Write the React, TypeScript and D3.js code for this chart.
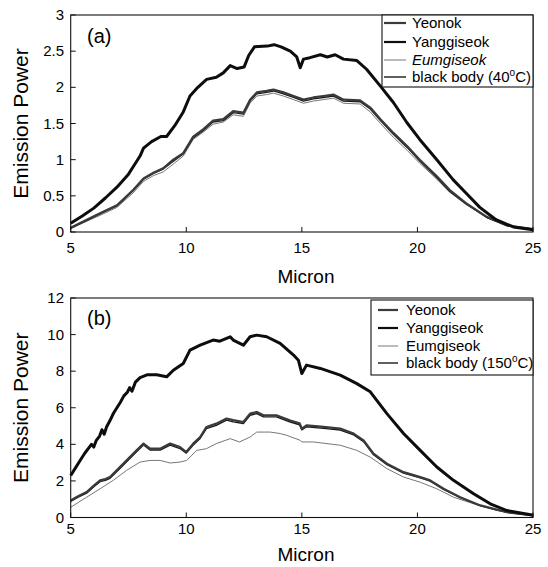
import React from "react";
import * as d3 from "d3";

// ---------- Panel (a): 40°C ----------
const aYangX = [5, 5.5, 6, 6.5, 7, 7.5, 7.8, 8.0, 8.15, 8.5, 8.9, 9.15, 9.5, 9.87, 10.16, 10.5, 10.88, 11.3, 11.6, 11.9, 12.2, 12.5, 12.7, 12.95, 13.5, 13.8, 14.1, 14.5, 14.78, 14.93, 15.07, 15.35, 15.8, 16.1, 16.44, 16.8, 17.38, 17.8, 18.39, 18.96, 19.55, 20.1, 20.84, 21.55, 22.1, 22.7, 23.4, 24.15, 25];
const aYangY = [0.12, 0.22, 0.33, 0.47, 0.62, 0.8, 0.95, 1.05, 1.16, 1.25, 1.32, 1.32, 1.47, 1.66, 1.88, 2.0, 2.11, 2.14, 2.2, 2.3, 2.26, 2.28, 2.44, 2.56, 2.57, 2.59, 2.56, 2.5, 2.42, 2.27, 2.39, 2.41, 2.45, 2.42, 2.45, 2.39, 2.37, 2.25, 2.02, 1.79, 1.51, 1.28, 1.0, 0.72, 0.54, 0.34, 0.17, 0.07, 0.03];

const aLowX = [5, 5.5, 6.27, 7.0, 7.7, 8.15, 8.58, 9.0, 9.44, 9.87, 10.3, 10.73, 11.16, 11.6, 12.03, 12.47, 12.76, 13.05, 13.48, 13.77, 14.2, 14.64, 15.07, 15.5, 15.93, 16.37, 16.8, 17.52, 17.96, 18.4, 18.96, 19.55, 20.1, 20.84, 21.4, 22.1, 23.0, 23.87, 25];
const aYeonY = [0.06, 0.14, 0.26, 0.37, 0.58, 0.74, 0.82, 0.88, 1.0, 1.09, 1.32, 1.42, 1.54, 1.56, 1.67, 1.65, 1.83, 1.93, 1.95, 1.97, 1.93, 1.88, 1.83, 1.86, 1.88, 1.9, 1.83, 1.82, 1.72, 1.56, 1.37, 1.19, 1.0, 0.77, 0.58, 0.4, 0.21, 0.09, 0.04];
const aBodyY = [0.05, 0.13, 0.25, 0.36, 0.57, 0.73, 0.81, 0.87, 0.98, 1.08, 1.3, 1.4, 1.52, 1.54, 1.65, 1.63, 1.81, 1.91, 1.93, 1.95, 1.91, 1.86, 1.81, 1.84, 1.86, 1.88, 1.81, 1.8, 1.7, 1.54, 1.35, 1.17, 0.98, 0.75, 0.56, 0.39, 0.2, 0.09, 0.04];
const aEumY = [0.05, 0.12, 0.23, 0.34, 0.54, 0.7, 0.78, 0.83, 0.94, 1.05, 1.28, 1.38, 1.49, 1.52, 1.62, 1.6, 1.78, 1.88, 1.9, 1.92, 1.88, 1.83, 1.78, 1.81, 1.83, 1.85, 1.78, 1.77, 1.66, 1.5, 1.31, 1.13, 0.95, 0.73, 0.55, 0.38, 0.2, 0.09, 0.04];

// ---------- Panel (b): 150°C ----------
const bYangX = [5.0, 5.2, 5.4, 5.6, 5.75, 5.9, 6.0, 6.1, 6.25, 6.35, 6.45, 6.55, 6.7, 6.85, 7.0, 7.15, 7.3, 7.45, 7.55, 7.65, 7.8, 8.0, 8.3, 8.72, 9.15, 9.44, 9.87, 10.16, 10.6, 11.16, 11.45, 11.9, 12.03, 12.47, 12.76, 13.05, 13.48, 14.06, 14.64, 14.85, 15.0, 15.2, 15.8, 16.66, 17.38, 17.96, 18.68, 19.4, 20.12, 20.84, 21.56, 22.43, 23.15, 23.87, 24.9, 25];
const bYangY = [2.3, 2.7, 3.1, 3.5, 3.75, 4.0, 3.85, 4.2, 4.45, 4.8, 4.55, 4.95, 5.3, 5.7, 6.0, 6.3, 6.65, 6.85, 7.1, 6.9, 7.4, 7.65, 7.8, 7.8, 7.69, 8.05, 8.42, 9.15, 9.42, 9.7, 9.64, 9.88, 9.7, 9.42, 9.88, 9.97, 9.88, 9.52, 8.88, 8.6, 7.87, 8.33, 8.15, 7.78, 7.32, 6.87, 5.68, 4.59, 3.67, 2.76, 2.03, 1.3, 0.75, 0.38, 0.15, 0.12];

const bMidX = [5, 5.3, 5.69, 6.0, 6.27, 6.5, 6.7, 7.13, 7.56, 7.85, 8.15, 8.43, 8.87, 9.3, 9.73, 10.0, 10.3, 10.6, 10.87, 11.3, 11.74, 12.03, 12.47, 12.76, 13.05, 13.34, 13.9, 14.5, 14.9, 15.0, 15.2, 15.94, 16.66, 17.24, 17.67, 18.1, 18.68, 19.4, 20.12, 20.55, 21.13, 21.85, 22.72, 23.87, 25];
const bYeonY = [0.93, 1.15, 1.39, 1.75, 2.03, 2.1, 2.21, 2.76, 3.3, 3.67, 4.04, 3.76, 3.76, 4.04, 3.85, 3.58, 4.04, 4.4, 4.95, 5.13, 5.41, 5.32, 5.22, 5.68, 5.77, 5.59, 5.59, 5.3, 5.15, 4.86, 5.04, 4.95, 4.86, 4.59, 4.22, 3.49, 2.94, 2.48, 2.21, 2.03, 1.57, 1.11, 0.66, 0.29, 0.12];
const bBodyY = [0.88, 1.1, 1.33, 1.68, 1.96, 2.03, 2.14, 2.68, 3.22, 3.59, 3.96, 3.69, 3.69, 3.96, 3.77, 3.52, 3.96, 4.32, 4.86, 5.04, 5.32, 5.23, 5.14, 5.59, 5.68, 5.5, 5.5, 5.22, 5.07, 4.79, 4.96, 4.87, 4.78, 4.52, 4.15, 3.43, 2.89, 2.43, 2.17, 1.99, 1.54, 1.09, 0.65, 0.28, 0.12];

const bEumX = [5, 5.69, 6.27, 6.84, 7.42, 8.0, 8.43, 8.87, 9.3, 9.73, 10.02, 10.45, 10.87, 11.3, 11.9, 12.3, 12.76, 13.05, 13.63, 14.06, 14.35, 14.93, 15.0, 15.5, 16.66, 17.38, 17.96, 18.68, 19.4, 20.12, 20.84, 21.56, 22.43, 23.44, 25];
const bEumY = [0.56, 1.11, 1.57, 2.03, 2.58, 3.03, 3.12, 3.12, 2.98, 3.03, 3.12, 3.67, 3.76, 4.04, 4.31, 4.13, 4.4, 4.67, 4.67, 4.59, 4.49, 4.22, 4.13, 4.13, 3.95, 3.67, 3.3, 2.67, 2.21, 1.93, 1.57, 1.11, 0.75, 0.38, 0.12];

const xTicks = [5, 10, 15, 20, 25];
const aYTicks = [0, 0.5, 1, 1.5, 2, 2.5, 3];
const aYTickLabels = ["0", "0.5", "1", "1.5", "2", "2.5", "3"];
const bYTicks = [0, 2, 4, 6, 8, 10, 12];
const bYTickLabels = ["0", "2", "4", "6", "8", "10", "12"];
const legendNames = ["Yeonok", "Yanggiseok", "Eumgiseok", "black body"];

const FONT = "'Liberation Sans', Arial, Helvetica, sans-serif";

const styles = {
  Yeonok: { stroke: "#3a3a3a", width: 2.2 },
  Yanggiseok: { stroke: "#0d0d0d", width: 3.0 },
  Eumgiseok: { stroke: "#777", width: 1.0 },
  body: { stroke: "#1a1a1a", width: 1.4 },
};

type Series = { name: string; xs: number[]; ys: number[]; style: { stroke: string; width: number } };

function Panel(props: {
  top: number; bottom: number; yMax: number; yTicks: number[]; yLabels: string[];
  series: Series[]; tag: string; temp: string; legend: { x0: number; y0: number; x1: number; y1: number; rows: number[]; lx0: number; lx1: number; tx: number; italicEum: boolean };
  tickLabelGap: number; xTitleY: number; tagY: number;
}) {
  const left = 70.7, right = 533;
  const x = d3.scaleLinear().domain([5, 25]).range([left, right]);
  const y = d3.scaleLinear().domain([0, props.yMax]).range([props.bottom, props.top]);
  const line = d3.line<[number, number]>().x(d => x(d[0])).y(d => y(d[1]));
  const lg = props.legend;
  const order = [2, 3, 0, 1];
  return (
    <g>
      {order.map(i => {
        const s = props.series[i];
        const pts = s.xs.map((xv, k) => [xv, s.ys[k]] as [number, number]);
        return <path key={i} d={line(pts) || ""} fill="none" stroke={s.style.stroke} strokeWidth={s.style.width} strokeLinejoin="round" />;
      })}
      <rect x={left} y={props.top} width={right - left} height={props.bottom - props.top} fill="none" stroke="#111" strokeWidth={1.1} />
      {xTicks.map(t => (
        <g key={t}>
          <line x1={x(t)} x2={x(t)} y1={props.bottom} y2={props.bottom - 5} stroke="#111" />
          <text x={x(t)} y={props.bottom + props.tickLabelGap} textAnchor="middle" fontSize={15} fontFamily={FONT}>{t}</text>
        </g>
      ))}
      {props.yTicks.map((t, i) => (
        <g key={t}>
          <line x1={left} x2={left + 5} y1={y(t)} y2={y(t)} stroke="#111" />
          <text x={64} y={y(t) + 5} textAnchor="end" fontSize={15} fontFamily={FONT}>{props.yLabels[i]}</text>
        </g>
      ))}
      <text x={87} y={props.tagY} fontSize={20} fontFamily={FONT}>{props.tag}</text>
      <text x={306} y={props.xTitleY} textAnchor="middle" fontSize={19} fontFamily={FONT}>Micron</text>
      <text transform={`translate(28,${(props.top + props.bottom) / 2}) rotate(-90)`} textAnchor="middle" fontSize={21} fontFamily={FONT}>Emission Power</text>
      <rect x={lg.x0} y={lg.y0} width={lg.x1 - lg.x0} height={lg.y1 - lg.y0} fill="#fff" stroke="#111" strokeWidth={1.1} />
      {legendNames.map((n, i) => {
        const s = props.series[i];
        const ry = lg.rows[i];
        return (
          <g key={n}>
            <line x1={lg.lx0} x2={lg.lx1} y1={ry} y2={ry} stroke={s.style.stroke} strokeWidth={Math.min(s.style.width, 2.2)} />
            <text x={lg.tx} y={ry + 5} fontSize={15} fontFamily={FONT} fontStyle={n === "Eumgiseok" && lg.italicEum ? "italic" : "normal"}>
              {n === "black body" ? (
                <>
                  {"black body (" + props.temp}
                  <tspan fontSize={10} dy={-6}>o</tspan>
                  <tspan dy={6}>C)</tspan>
                </>
              ) : n}
            </text>
          </g>
        );
      })}
    </g>
  );
}

export default function App() {
  const aSeries: Series[] = [
    { name: "Yeonok", xs: aLowX, ys: aYeonY, style: styles.Yeonok },
    { name: "Yanggiseok", xs: aYangX, ys: aYangY, style: styles.Yanggiseok },
    { name: "Eumgiseok", xs: aLowX, ys: aEumY, style: styles.Eumgiseok },
    { name: "black body", xs: aLowX, ys: aBodyY, style: styles.body },
  ];
  const bSeries: Series[] = [
    { name: "Yeonok", xs: bMidX, ys: bYeonY, style: styles.Yeonok },
    { name: "Yanggiseok", xs: bYangX, ys: bYangY, style: styles.Yanggiseok },
    { name: "Eumgiseok", xs: bEumX, ys: bEumY, style: styles.Eumgiseok },
    { name: "black body", xs: bMidX, ys: bBodyY, style: styles.body },
  ];
  return (
    <svg width={548} height={567} style={{ position: "absolute", left: 0, top: 0, background: "#fff" }}>
      <rect width={548} height={567} fill="#fff" />
      <Panel top={15} bottom={232} yMax={3} yTicks={aYTicks} yLabels={aYTickLabels} series={aSeries} tag="(a)" temp="40"
        legend={{ x0: 382, y0: 15, x1: 533, y1: 87, rows: [23, 42, 60, 77], lx0: 384, lx1: 406, tx: 412, italicEum: true }}
        tickLabelGap={21} xTitleY={283} tagY={43} />
      <Panel top={298} bottom={517.5} yMax={12} yTicks={bYTicks} yLabels={bYTickLabels} series={bSeries} tag="(b)" temp="150"
        legend={{ x0: 371, y0: 300, x1: 533, y1: 375, rows: [310, 328, 346, 363], lx0: 378, lx1: 398, tx: 406, italicEum: false }}
        tickLabelGap={16} xTitleY={561} tagY={325} />
    </svg>
  );
}
